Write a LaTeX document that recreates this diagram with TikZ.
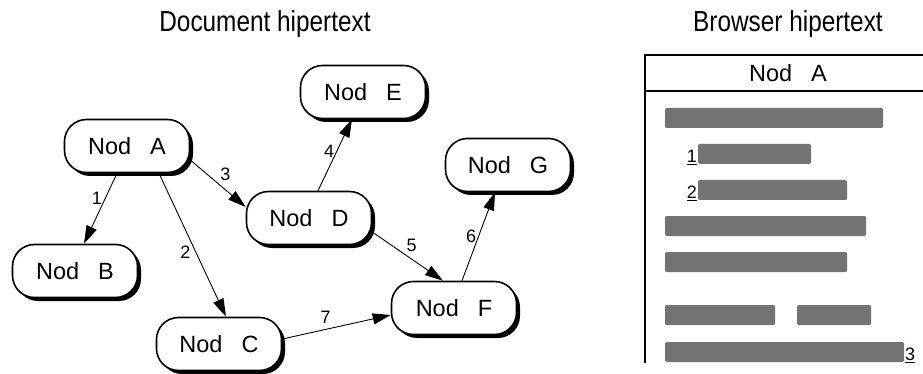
\documentclass[tikz,border=0pt]{standalone}
\usepackage{fontspec}
\setmainfont{Liberation Sans}
\newfontfamily\titlefont[FakeStretch=0.84]{Liberation Sans}
\usetikzlibrary{arrows.meta,shadows}

\begin{document}
\begin{tikzpicture}[x=1pt,y=-1pt,
        nod/.style={draw,line width=1.6pt,fill=white,rounded corners=22pt,
            minimum width=125pt,minimum height=53pt,font=\fontsize{23.5}{26}\selectfont,
            drop shadow={shadow xshift=3.5pt,shadow yshift=-3.5pt,opacity=1,fill=black}},
        link/.style={-{Triangle[length=18pt,width=11pt]},line width=0.9pt},
        nr/.style={font=\fontsize{18}{20}\selectfont,inner sep=0pt},
        bar/.style={fill=black!55,rounded corners=1.5pt},
        title/.style={font=\titlefont\fontsize{29}{32}\selectfont}]
    \useasboundingbox (0,0) rectangle (923,374);

    % document side
    \node[title] (doctitle) at (265,24) {Document hipertext};
    \node[nod] (A) at (127,146) {Nod\hspace{19pt}A};
    \node[nod] (B) at (75,271) {Nod\hspace{19pt}B};
    \node[nod] (C) at (219,344) {Nod\hspace{19pt}C};
    \node[nod] (D) at (309,218) {Nod\hspace{19pt}D};
    \node[nod] (E) at (363,92) {Nod\hspace{19pt}E};
    \node[nod] (F) at (454,308) {Nod\hspace{19pt}F};
    \node[nod] (G) at (508,165) {Nod\hspace{19pt}G};

    \draw[link] ([xshift=-10pt]A.south) -- ([xshift=9pt]B.north) node[nr,pos=0.35,left=3pt] {1};
    \draw[link] ([xshift=32pt]A.south) -- ([xshift=7pt]C.north) node[nr,pos=0.55,left=5pt] {2};
    \draw[link] ([yshift=-14pt]A.east) -- ([yshift=11pt]D.west) node[nr,pos=0.5,above right=2pt] {3};
    \draw[link] ([xshift=9pt]D.north) -- ([xshift=-11pt]E.south) node[nr,pos=0.55,left=2pt] {4};
    \draw[link] ([yshift=-14pt]D.east) -- ([xshift=-11pt]F.north) node[nr,pos=0.45,above right=2pt] {5};
    \draw[link] ([xshift=8pt]F.north) -- ([xshift=-13pt]G.south) node[nr,pos=0.5,left=2pt] {6};
    \draw[link] ([yshift=5pt]C.east) -- ([yshift=-7pt]F.west) node[nr,pos=0.4,above=5pt] {7};

    % browser side
    \node[title] (brtitle) at (788,24) {Browser hipertext};
    \draw[line width=1.5pt] (645,363) -- (645,55) -- (923,55);
    \draw[line width=1.5pt] (645,91) -- (923,91);
    \node[font=\fontsize{23.5}{26}\selectfont] (head) at (788,73) {Nod\hspace{19pt}A};
    \fill[bar] (665,108) rectangle (883,128);
    \fill[bar] (698,144) rectangle (811,164);
    \fill[bar] (698,180) rectangle (847,200);
    \fill[bar] (665,216) rectangle (866,236);
    \fill[bar] (665,252) rectangle (847,272);
    \fill[bar] (665,305) rectangle (775,325);
    \fill[bar] (797,305) rectangle (871,325);
    \fill[bar] (665,342) rectangle (904,362);
    \node[nr,anchor=south east] (ref1) at (697,165) {\underline{1}};
    \node[nr,anchor=south east] (ref2) at (697,201) {\underline{2}};
    \node[nr,anchor=south west] (ref3) at (905,363) {\underline{3}};
\end{tikzpicture}
\end{document}
